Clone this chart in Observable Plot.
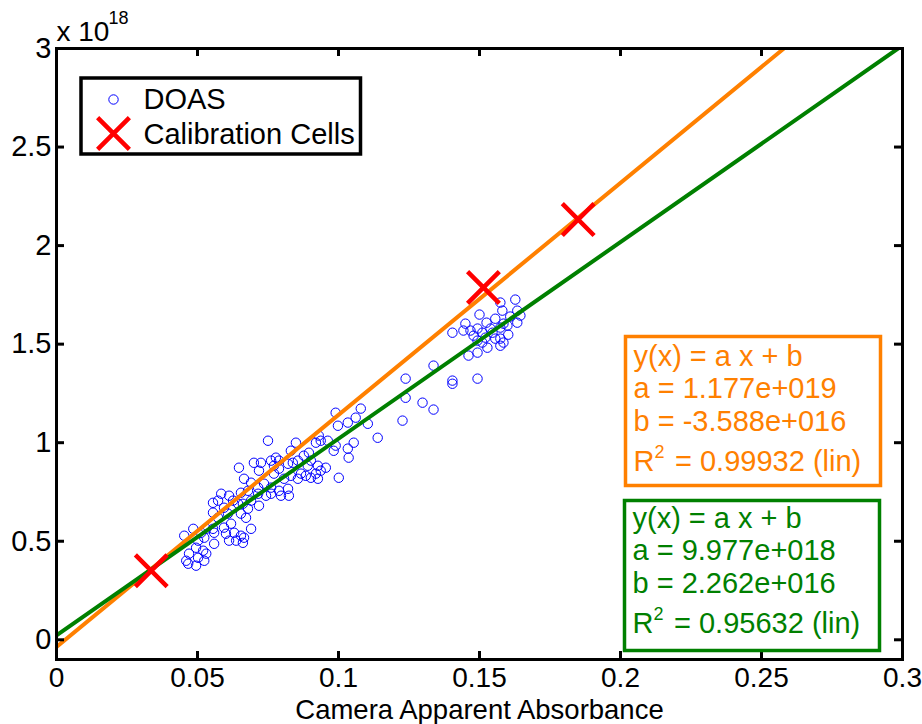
<!DOCTYPE html>
<html>
<head>
<meta charset="utf-8">
<script src="https://cdn.jsdelivr.net/npm/d3@7"></script>
<script src="https://cdn.jsdelivr.net/npm/@observablehq/plot@0.6"></script>
<style>
  html, body { margin: 0; padding: 0; background: #fff; }
  #chart { width: 922px; height: 724px; }
</style>
</head>
<body>
<div id="chart"></div>
<script>
// ---- data (y values in units of 1e18) ----
const xTicks = [0, 0.05, 0.1, 0.15, 0.2, 0.25, 0.3];
const yTicks = [0, 0.5, 1, 1.5, 2, 2.5, 3];
const xLabel = "Camera Apparent Absorbance";
const yExponent = "18";
const legendLabels = ["DOAS", "Calibration Cells"];

const calibX = [0.0336, 0.1514, 0.1850];
const calibY = [0.350, 1.787, 2.132];

const fitNames = ["calibration", "doas"];
const fitA = [1.177e19, 9.977e18];
const fitB = [-3.588e16, 2.262e16];
const fitR2 = ["0.99932", "0.95632"];
const fitColors = ["rgb(255,128,0)", "rgb(0,128,0)"];

const doas = [
  [0.0453,0.528],[0.0460,0.401],[0.0467,0.386],[0.0470,0.437],[0.0485,0.563],[0.0495,0.467],[0.0495,0.376],[0.0502,0.503],[0.0502,0.416],[0.0513,0.543],
  [0.0520,0.452],[0.0524,0.401],[0.0524,0.518],[0.0531,0.563],[0.0531,0.437],[0.0555,0.695],[0.0555,0.645],[0.0555,0.563],[0.0559,0.543],[0.0559,0.487],
  [0.0573,0.706],[0.0573,0.619],[0.0584,0.741],[0.0594,0.670],[0.0594,0.569],[0.0601,0.538],[0.0608,0.640],[0.0612,0.731],[0.0612,0.503],[0.0619,0.589],
  [0.0626,0.706],[0.0630,0.543],[0.0637,0.503],[0.0644,0.690],[0.0654,0.746],[0.0654,0.640],[0.0654,0.528],[0.0661,0.492],[0.0672,0.619],[0.0679,0.756],
  [0.0690,0.706],[0.0690,0.563],[0.0665,0.817],[0.0661,0.690],[0.0679,0.665],[0.0690,0.797],[0.0665,0.518],[0.0647,0.873],
  [0.0990,1.152],[0.0998,1.086],[0.0750,1.010],[0.0849,1.000],[0.0930,1.036],[0.0920,1.000],[0.0937,1.010],[0.0983,0.959],[0.0990,0.985],[0.0831,0.959],
  [0.0778,0.924],[0.0761,0.909],[0.0700,0.898],[0.0725,0.898],[0.0718,0.858],[0.0789,0.868],[0.0771,0.883],[0.0821,0.893],[0.0856,0.909],[0.0895,0.949],
  [0.0902,0.909],[0.0927,0.883],[0.0955,0.873],[0.0937,0.858],[0.0920,0.843],[0.0927,0.817],[0.0884,0.832],[0.0867,0.843],[0.0831,0.832],[0.0807,0.817],
  [0.0771,0.843],[0.1001,0.822],[0.0736,0.792],[0.0715,0.772],[0.0761,0.772],[0.0789,0.756],[0.0821,0.766],[0.0824,0.731],[0.0796,0.731],[0.0761,0.741],
  [0.0743,0.731],[0.0718,0.680],[0.0789,0.909],[0.0962,1.010],[0.0877,0.934],[0.0838,0.898],[0.0891,0.883],[0.0902,0.822],[0.0856,0.817],[0.0715,0.741],
  [0.1079,1.173],[0.1061,1.127],[0.1033,1.102],[0.1104,1.096],[0.1139,1.025],[0.1054,1.000],[0.1033,0.970],[0.1036,0.924],
  [0.1238,1.325],[0.1238,1.228],[0.1227,1.112],[0.1298,1.203],[0.1337,1.168],[0.1337,1.391],[0.1404,1.315],[0.1404,1.299],
  [0.1404,1.558],[0.1443,1.569],[0.1450,1.604],[0.1461,1.442],[0.1468,1.569],[0.1479,1.543],[0.1493,1.579],[0.1493,1.457],[0.1500,1.650],[0.1510,1.558],
  [0.1510,1.508],[0.1521,1.533],[0.1525,1.609],[0.1528,1.482],[0.1546,1.558],[0.1556,1.629],[0.1556,1.528],[0.1574,1.711],[0.1574,1.584],[0.1574,1.528],
  [0.1574,1.492],[0.1581,1.670],[0.1585,1.508],[0.1599,1.594],[0.1602,1.548],[0.1609,1.640],[0.1627,1.726],[0.1634,1.670],[0.1634,1.609],[0.1493,1.325],
  [0.1493,1.518],[0.1539,1.579],[0.1585,1.604],[0.1645,1.645]
];

// ---- derived tables ----
const SCALE = 1e18;
const calib = calibX.map((x, i) => ({x, y: calibY[i]}));
const fitLines = fitNames.flatMap((name, i) =>
  [0, 0.3].map(x => ({name, x, y: (fitA[i] * x + fitB[i]) / SCALE}))
);
function fmtE(v) {
  const [m, e] = v.toExponential(3).split("e");
  const sign = e[0] === "-" ? "-" : "+";
  return `${m}e${sign}${e.replace(/^[+-]/, "").padStart(3, "0")}`;
}
const fitText = fitNames.map((_, i) =>
  ["y(x) = a x + b", `a = ${fmtE(fitA[i])}`, `b = ${fmtE(fitB[i])}`].join("\n")
);

// ---- layout (styles) ----
const ML = 56, MR = 20, MT = 48, MB = 65;
const WIDTH = 922, HEIGHT = 724;
const IW = WIDTH - ML - MR, IH = HEIGHT - MT - MB;
const FS = 29;
const TICK = 8;
const font = "'Liberation Sans', Arial, Helvetica, sans-serif";

function fitBox(i, insetLeft, insetRight, insetTop, insetBottom, textDx, lastBaseline, rBaseline) {
  const c = fitColors[i];
  return [
    Plot.frame({insetLeft, insetRight, insetTop, insetBottom, fill: "white", stroke: c, strokeWidth: 3.5}),
    Plot.text([fitText[i]], {text: d => d, frameAnchor: "top-left", dx: textDx, dy: lastBaseline, textAnchor: "start", lineAnchor: "bottom", lineHeight: 32.5 / FS, fontSize: FS, fill: c}),
    Plot.text(["R"], {text: d => d, frameAnchor: "top-left", dx: textDx, dy: rBaseline, textAnchor: "start", lineAnchor: "bottom", fontSize: FS, fill: c}),
    Plot.text(["2"], {text: d => d, frameAnchor: "top-left", dx: textDx + 21, dy: rBaseline - 13, textAnchor: "start", lineAnchor: "bottom", fontSize: 18, fill: c}),
    Plot.text([`= ${fitR2[i]} (lin)`], {text: d => d, frameAnchor: "top-left", dx: textDx + 41.5, dy: rBaseline, textAnchor: "start", lineAnchor: "bottom", fontSize: FS, fill: c})
  ];
}

const chart = Plot.plot({
  width: WIDTH, height: HEIGHT,
  marginLeft: ML, marginRight: MR, marginTop: MT, marginBottom: MB,
  x: {domain: [0, 0.3]},
  y: {domain: [-0.1, 3]},
  style: {fontFamily: font, fontSize: FS + "px", color: "black", background: "white"},
  marks: [
    // data
    Plot.dot(doas, {x: d => d[0], y: d => d[1], r: 4.7, stroke: "rgb(0,0,255)", strokeWidth: 1, fill: "none"}),
    Plot.line(fitLines, {x: "x", y: "y", z: "name", stroke: d => d.name === "calibration" ? fitColors[0] : fitColors[1], strokeWidth: 4, clip: true}),
    Plot.dot(calib, {x: "x", y: "y", symbol: "times", r: 14.5, stroke: "rgb(255,0,0)", strokeWidth: 4.5}),

    // axes: labels
    Plot.axisX(xTicks, {tickSize: 0, tickPadding: 8, fontSize: 28, tickFormat: d => String(d), label: null}),
    Plot.axisY(yTicks, {tickSize: 0, tickPadding: 5, fontSize: FS, tickFormat: d => String(d), label: null}),
    // inward ticks on all four sides
    Plot.tickX(xTicks, {x: d => d, insetTop: IH - TICK, stroke: "black", strokeWidth: 3}),
    Plot.tickX(xTicks, {x: d => d, insetBottom: IH - TICK, stroke: "black", strokeWidth: 3}),
    Plot.tickY(yTicks, {y: d => d, insetRight: IW - TICK, stroke: "black", strokeWidth: 3}),
    Plot.tickY(yTicks, {y: d => d, insetLeft: IW - TICK, stroke: "black", strokeWidth: 3}),
    Plot.frame({stroke: "black", strokeWidth: 3}),

    // exponent label
    Plot.text(["x 10"], {text: d => d, frameAnchor: "top-left", dx: 0, dy: -8, textAnchor: "start", lineAnchor: "bottom", fontSize: 28}),
    Plot.text([yExponent], {text: d => d, frameAnchor: "top-left", dx: 52, dy: -25, textAnchor: "start", lineAnchor: "bottom", fontSize: 18}),
    // x axis title
    Plot.text([xLabel], {text: d => d, frameAnchor: "bottom", dy: 59, lineAnchor: "bottom", fontSize: 27.5}),

    // legend
    Plot.frame({insetLeft: 24.5, insetRight: 542, insetTop: 29.5, insetBottom: 505.5, fill: "white", stroke: "black", strokeWidth: 3.5}),
    Plot.dot([legendLabels[0]], {frameAnchor: "top-left", dx: 57, dy: 51, r: 4.7, stroke: "rgb(0,0,255)", strokeWidth: 1, fill: "none"}),
    Plot.dot([legendLabels[1]], {frameAnchor: "top-left", dx: 57, dy: 85, symbol: "times", r: 14.5, stroke: "rgb(255,0,0)", strokeWidth: 4.5}),
    Plot.text([legendLabels[0]], {text: d => d, frameAnchor: "top-left", dx: 87, dy: 60, textAnchor: "start", lineAnchor: "bottom", fontSize: FS}),
    Plot.text([legendLabels[1]], {text: d => d, frameAnchor: "top-left", dx: 87, dy: 95, textAnchor: "start", lineAnchor: "bottom", fontSize: FS}),

    // fit annotation boxes
    ...fitBox(0, 569, 22, 288, 174, 577, 382, 422),
    ...fitBox(1, 568, 23, 452, 9, 576, 544, 584)
  ]
});
document.getElementById("chart").appendChild(chart);
</script>
</body>
</html>
